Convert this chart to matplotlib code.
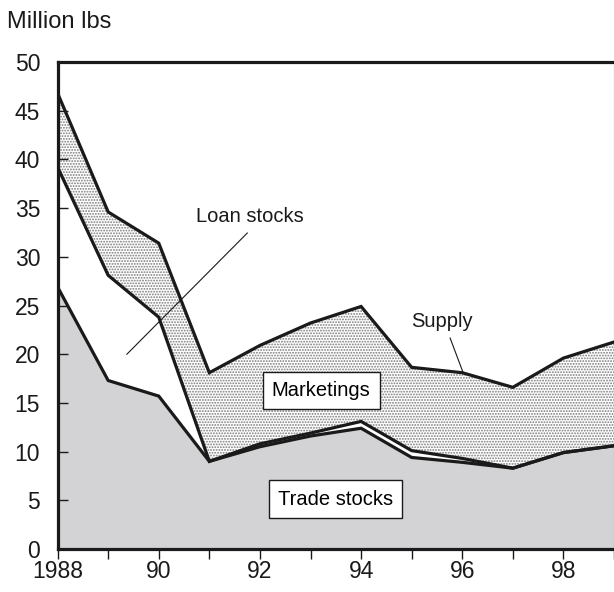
import matplotlib
matplotlib.use('Agg')
import matplotlib.pyplot as plt

years = [1988, 1989, 1990, 1991, 1992, 1993, 1994, 1995, 1996, 1997, 1998, 1999]
trade_stocks = [26.9, 17.3, 15.7, 9.0, 10.5, 11.6, 12.4, 9.4, 8.9, 8.3, 9.9, 10.6]
total_stocks = [39.2, 28.1, 23.8, 9.0, 10.8, 11.9, 13.1, 10.1, 9.3, 8.3, 9.9, 10.6]
supply = [46.8, 34.6, 31.4, 18.1, 20.9, 23.2, 24.9, 18.65, 18.1, 16.6, 19.6, 21.25]

plt.rcParams['font.family'] = ['Liberation Sans', 'DejaVu Sans']
plt.rcParams['hatch.color'] = '#7a7a7a'
plt.rcParams['hatch.linewidth'] = 0.9

fig = plt.figure(figsize=(6.14, 5.92), dpi=100)
ax = fig.add_axes([0.0938, 0.0726, 0.9062, 0.8227])

# gray trade stocks, white loan stocks, hatched marketings
ax.fill_between(years, 0, trade_stocks, facecolor='#d3d3d5', edgecolor='none', zorder=1)
ax.fill_between(years, total_stocks, supply, facecolor='white', edgecolor='#7a7a7a',
                hatch='......', linewidth=0, zorder=1)

for s in (trade_stocks, total_stocks, supply):
    ax.plot(years, s, color='#1a1a1a', lw=2.3, solid_joinstyle='miter', zorder=3)

ax.set_xlim(1988, 1998.95)
ax.set_ylim(0, 50)
ax.set_yticks(range(0, 51, 5))
ax.set_xticks(years)
ax.set_xticklabels(['1988', '', '90', '', '92', '', '94', '', '96', '', '98', ''])
ax.tick_params(axis='y', direction='in', length=7, width=1, pad=12.5,
               labelsize=16.5, colors='#1a1a1a')
ax.tick_params(axis='x', direction='out', length=7.5, width=1, pad=0.5,
               labelsize=16.5, colors='#1a1a1a')
for side in ('left', 'bottom', 'top'):
    ax.spines[side].set_linewidth(2.3)
    ax.spines[side].set_color('#1a1a1a')
ax.spines['right'].set_linewidth(0.8)
ax.spines['right'].set_color('#888888')

fig.text(7 / 614, 1 - 28 / 592, 'Million lbs', fontsize=17, color='#1a1a1a', va='baseline')

box = dict(boxstyle='square,pad=0.45', facecolor='white', edgecolor='#1a1a1a', lw=1)
ax.text(1993.21, 16.3, 'Marketings', fontsize=14.5, ha='center', va='center', bbox=box, zorder=5)
ax.text(1993.49, 5.13, 'Trade stocks', fontsize=14.5, ha='center', va='center', bbox=box, zorder=5)

ax.text(1991.80, 34.1, 'Loan stocks', fontsize=14.5, ha='center', va='center', color='#1a1a1a')
ax.plot([1991.75, 1989.37], [32.44, 20.0], color='#1a1a1a', lw=0.8, zorder=4)
ax.text(1995.59, 23.4, 'Supply', fontsize=14.5, ha='center', va='center', color='#1a1a1a')
ax.plot([1995.76, 1996.02], [21.66, 18.07], color='#1a1a1a', lw=0.8, zorder=4)

fig.savefig('out.png', dpi=100)
